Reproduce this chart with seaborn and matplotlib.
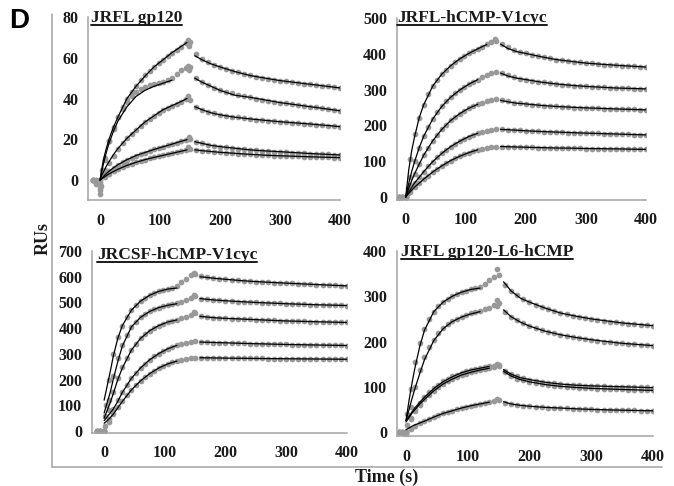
import numpy as np
import pandas as pd
import matplotlib
matplotlib.use("Agg")
import matplotlib.pyplot as plt
from matplotlib.lines import Line2D
import seaborn as sns

nan = np.nan

# ---------------- data ----------------
T_DOTS = [-12, -6, 0, 7.5, 15, 22.5, 30, 37.5, 45, 52.5, 60, 67.5, 75, 82.5, 90, 97.5,
          105, 112.5, 120, 127.5, 135, 142.5, 150,
          160, 170, 180, 190, 200, 210, 220, 230, 240, 250, 260, 270, 280, 290, 300,
          310, 320, 330, 340, 350, 360, 370, 380, 390, 400]
T_FIT_ON = [0, 5, 10, 15, 22.5, 30, 45, 60, 75, 90, 105, 120, 135, 145]
T_FIT_OFF = [158, 170, 185, 200, 225, 250, 275, 300, 350, 400]

TITLES = ["JRFL gp120", "JRFL-hCMP-V1cyc", "JRCSF-hCMP-V1cyc", "JRFL gp120-L6-hCMP"]
X_TICKS = [0, 100, 200, 300, 400]
Y_TICKS = [[0, 20, 40, 60, 80],
           [0, 100, 200, 300, 400, 500],
           [0, 100, 200, 300, 400, 500, 600, 700],
           [0, 100, 200, 300, 400]]

# Panel 1: JRFL gp120
P1_DOTS = [
    [0, 0, 0, 11, 19, 25, 31, 36, 40, 43, 46, 49, 51.5, 53.5, 55.5, 57.5, 59, 61, 62.5, 64, 65.5, 67, 67.5,
     62, 59.5, 58, 56.5, 55.5, 54.5, 53.5, 52.8, 52, 51.3, 50.7, 50.2, 49.7, 49.2, 48.8, 48.4, 48, 47.6, 47.3, 47, 46.7, 46.3, 46, 45.6, 45.2],
    [0, -1, -2, 10, 19, 26, 31, 35, 38.5, 41, 43, 44.5, 45.5, 46.5, 47, 47.5, 48, 49, 50, 52, 54, 55, 55.5,
     50, 48, 46.5, 45, 44, 43.2, 42.5, 41.8, 41.2, 40.6, 40, 39.5, 39, 38.5, 38, 37.6, 37.2, 36.8, 36.4, 36, 35.6, 35.2, 34.8, 34.4, 34],
    [0, -1, -4, 5, 8.5, 12, 15, 18, 20.5, 22.5, 24.5, 26.5, 28.5, 30, 31.5, 33, 34.5, 35.5, 36.5, 37.5, 38.5, 40, 39.5,
     36, 34.5, 33.5, 32.7, 32, 31.5, 31, 30.7, 30.3, 30, 29.7, 29.4, 29.1, 28.8, 28.6, 28.4, 28.1, 27.9, 27.7, 27.5, 27.2, 27, 26.7, 26.5, 26.2],
    [0, -2, -7, 2.5, 4.5, 6, 7.5, 9, 10, 11, 12, 12.8, 13.5, 14.3, 15, 15.7, 16.3, 17, 17.6, 18.3, 19, 19.8, 20,
     18.8, 18, 17.4, 16.9, 16.4, 16, 15.6, 15.2, 15, 14.8, 14.5, 14.3, 14.1, 13.9, 13.8, 13.6, 13.4, 13.3, 13.1, 13, 12.9, 12.7, 12.6, 12.5, 12.3],
    [0, 0, -1, 1.5, 3, 4.2, 5.3, 6.3, 7.2, 8, 8.7, 9.4, 10, 10.6, 11.1, 11.6, 12.1, 12.6, 13.1, 13.6, 14.1, 14.8, 15,
     14.8, 14.4, 14.1, 13.8, 13.6, 13.3, 13.1, 12.9, 12.7, 12.6, 12.4, 12.3, 12.1, 12, 11.9, 11.8, 11.7, 11.6, 11.5, 11.4, 11.3, 11.2, 11.1, 11, 11],
]
P1_FIT_ON = [
    [0, 9, 15, 20, 26, 31, 40, 46, 51, 55.5, 59, 62.5, 65.5, 67.5],
    [0, 7, 13, 18, 24, 29, 36, 41, 44, 46, 47.5, 49, nan, nan],
    [0, 3.5, 6.5, 9, 12.5, 15.5, 20.5, 24.5, 28.5, 31.5, 34.5, 36.5, 38.5, 40],
    [0, 1.5, 3, 4.3, 6, 7.5, 10, 12, 13.5, 15, 16.3, 17.6, 19, 19.8],
    [0, 1, 2, 3, 4.2, 5.3, 7.2, 8.7, 10, 11.1, 12.1, 13.1, 14.1, 14.8],
]
P1_FIT_OFF = [
    [61, 59, 57, 55.5, 53.2, 51.3, 50, 48.8, 47, 45.2],
    [50, 48, 46, 44, 41.6, 40.6, 39.3, 38, 36, 34],
    [36, 34.5, 33, 32, 30.8, 30, 29.3, 28.6, 27.5, 26.2],
    [18.8, 18, 17, 16.4, 15.6, 14.8, 14.3, 13.9, 13, 12.3],
    [14.8, 14.4, 14, 13.6, 13.1, 12.6, 12.2, 11.9, 11.4, 11],
]
P1_SPIKE_T = [146, 148, 146, 148, 147, 148, 147, 2, 3, 0]
P1_SPIKE_RU = [68.5, 66, 56, 54, 41, 21, 16, -3, 5, -5]

# Panel 2: JRFL-hCMP-V1cyc
P2_DOTS = [
    [0, 0, 0, 105, 175, 222, 258, 287, 310, 328, 343, 356, 367, 377, 386, 394, 401, 408, 414, 420, 426, 433, 437,
     426, 418, 411, 406, 401, 397, 393, 390, 387, 384, 382, 380, 378, 376, 374, 373, 371, 370, 369, 368, 367, 366, 365, 364, 363],
    [0, 0, 0, 55, 100, 138, 170, 196, 218, 237, 253, 267, 279, 290, 299, 308, 315, 322, 328, 334, 340, 346, 350,
     347, 340, 335, 331, 328, 325, 322, 320, 318, 316, 314, 313, 311, 310, 309, 308, 307, 306, 305, 304.5, 304, 303.5, 303, 302.5, 302],
    [0, 0, 0, 35, 65, 92, 117, 138, 157, 174, 189, 202, 214, 224, 233, 241, 248, 254, 259, 264, 268, 271, 273,
     270, 267, 264, 262, 260, 258, 257, 255, 254, 253, 252, 251, 250, 249.5, 249, 248, 247.5, 247, 246.5, 246, 245.5, 245, 244.5, 244, 243.5],
    [0, 0, 0, 20, 38, 55, 71, 86, 99, 111, 122, 132, 141, 149, 156, 163, 169, 174, 178, 182, 185, 188, 190,
     189, 188, 187, 186, 185, 184, 183.5, 183, 182, 181.5, 181, 180, 179.5, 179, 178.5, 178, 177.5, 177, 176.5, 176, 175.5, 175, 174.5, 174, 173.5],
    [0, 0, 0, 14, 27, 39, 50, 60, 70, 79, 87, 95, 102, 108, 114, 119, 124, 128, 132, 135, 138, 140, 141,
     141, 140.5, 140, 139.5, 139, 138.5, 138, 138, 137.5, 137, 137, 136.5, 136, 136, 135.5, 135.5, 135, 135, 134.5, 134.5, 134, 134, 133.5, 133.5, 133],
]
P2_FIT_ON = [
    [0, 75, 130, 170, 222, 258, 310, 343, 367, 386, 401, 414, 426, nan],
    [0, 38, 72, 100, 138, 170, 218, 253, 279, 299, 315, 328, nan, nan],
    [0, 24, 46, 66, 92, 117, 157, 189, 214, 233, 248, 259, nan, nan],
    [0, 14, 27, 40, 55, 71, 99, 122, 141, 156, 169, 178, nan, nan],
    [0, 10, 19, 28, 39, 50, 70, 87, 102, 114, 124, 132, nan, nan],
]
P2_FIT_OFF = [
    [427, 415, 406, 401, 392, 384, 379, 374, 368, 363],
    [346, 338, 332, 328, 321, 316, 312, 309, 304.5, 302],
    [270, 266, 262, 260, 256, 253, 251, 249, 246, 243.5],
    [189, 188, 186.5, 185, 183, 181.5, 180, 178.5, 176, 173.5],
    [141, 140.5, 139.8, 139, 138, 137, 136.5, 135.5, 134.5, 133],
]
P2_SPIKE_T = [148, 3, 4]
P2_SPIKE_RU = [440, 10, 25]

# Panel 3: JRCSF-hCMP-V1cyc
P3_DOTS = [
    [0, 0, 0, 200, 300, 365, 410, 445, 470, 490, 505, 517, 528, 536, 543, 549, 554, 558, 565, 578, 592, 605, 612,
     601, 597, 594, 592, 590, 588, 586, 584, 583, 581, 580, 578, 577, 576, 575, 574, 573, 571.5, 570.5, 569.5, 568.5, 567.5, 566.5, 565.5, 564.5],
    [0, 0, 0, 120, 215, 285, 335, 375, 405, 425, 442, 455, 465, 473, 480, 485, 489, 492, 496, 503, 510, 519, 525,
     515, 512, 510, 508, 506.5, 505, 503.5, 502, 501, 500, 499, 498, 497, 496, 495, 494, 493, 492, 491.5, 491, 490, 489.5, 489, 488.5, 488],
    [0, 0, 0, 80, 150, 205, 250, 285, 315, 340, 360, 376, 390, 401, 410, 418, 424, 429, 433, 438, 443, 450, 458,
     446, 443, 441, 439.5, 438, 437, 436, 435, 434, 433, 432, 431, 430, 429, 428, 427.5, 427, 426, 425.5, 425, 424.5, 424, 423, 422.5, 422],
    [0, 0, 0, 45, 85, 120, 152, 180, 205, 226, 245, 262, 277, 290, 301, 311, 320, 327, 333, 338, 343, 347, 350,
     346, 345, 344, 343.5, 343, 342, 341.5, 341, 340, 339.5, 339, 338.5, 338, 337, 336.5, 336, 335.5, 335, 335, 334.5, 334, 333.5, 333, 333, 332.5],
    [0, 0, 0, 35, 65, 92, 117, 140, 160, 178, 195, 210, 223, 235, 245, 254, 261, 267, 272, 276, 280, 283, 285,
     285, 284.5, 284, 284, 283.5, 283, 283, 282.5, 282.5, 282, 282, 281.5, 281.5, 281, 281, 280.5, 280.5, 280, 280, 280, 279.5, 279.5, 279, 279, 279],
]
P3_FIT_ON = [
    [120, 175, 230, 290, 360, 410, 470, 505, 528, 543, 552, 556, nan, nan],
    [70, 110, 150, 200, 270, 330, 405, 442, 465, 480, 489, 495, nan, nan],
    [50, 80, 110, 145, 200, 245, 315, 360, 390, 410, 424, 432, nan, nan],
    [40, 55, 70, 85, 115, 150, 205, 245, 277, 301, 320, 333, nan, nan],
    [30, 40, 52, 65, 90, 115, 160, 195, 223, 245, 261, 272, nan, nan],
]
P3_FIT_OFF = [
    [600, 597, 593, 590, 585, 581, 578, 575, 569.5, 564.5],
    [515, 512, 509, 506.5, 503, 500, 497.5, 495, 491, 488],
    [446, 443, 440, 438, 435.5, 433, 430.5, 428, 425, 422],
    [346, 345, 344, 343, 341, 339.5, 338, 336.5, 334.5, 332.5],
    [285, 284.5, 284, 283.5, 282.7, 282, 281.5, 281, 280, 279],
]
P3_SPIKE_T = [148, 148, 148, 1, 2, 3, -2]
P3_SPIKE_RU = [615, 528, 463, 20, 60, 100, -5]

# Panel 4: JRFL gp120-L6-hCMP
P4_DOTS = [
    [0, 0, 0, 95, 155, 197, 228, 250, 266, 278, 287, 294, 300, 305, 309, 312, 315, 318, 321, 328, 335, 342, 348,
     325, 312, 302, 294, 287, 281, 276, 271, 267, 263, 260, 257, 254, 252, 250, 248, 246, 244, 242.5, 241, 239.5, 238, 237, 236, 235],
    [0, 0, 0, 55, 100, 138, 165, 187, 204, 218, 229, 238, 245, 250, 255, 259, 262, 265, 268, 271, 275, 280, 285,
     265, 255, 247, 240, 234, 229, 225, 221, 218, 215, 212, 210, 208, 206, 204, 202, 200, 199, 197.5, 196, 195, 194, 193, 192, 191],
    [0, 0, 0, 30, 50, 65, 78, 88, 97, 105, 112, 118, 123, 127, 131, 134, 137, 139, 141, 143, 145, 146, 147,
     135, 128, 123, 119, 116, 113, 111, 109, 107.5, 106, 105, 104, 103, 102.5, 102, 101.5, 101, 100.5, 100, 100, 99.5, 99, 99, 98.5, 98],
    [0, -3, -5, 28, 46, 60, 72, 82, 91, 99, 106, 112, 117, 122, 126, 129, 132, 135, 137, 139, 141, 143, 145,
     132, 124, 118, 114, 111, 108, 106, 104, 102.5, 101, 100, 99, 98, 97, 96.5, 96, 95.5, 95, 94.5, 94, 93.5, 93, 93, 92.5, 92],
    [0, 0, 0, 7, 13, 19, 24, 29, 33, 37, 41, 44, 47, 50, 53, 55, 58, 60, 62, 64, 66, 68, 70,
     65, 62, 60, 58.5, 57, 56, 55, 54, 53.5, 53, 52, 51.5, 51, 50.5, 50, 49.5, 49, 48.8, 48.5, 48.2, 48, 47.7, 47.5, 47.2, 47],
]
P4_FIT_ON = [
    [25, 70, 110, 145, 190, 225, 266, 287, 300, 309, 315, 318, nan, nan],
    [25, 50, 75, 98, 130, 160, 202, 228, 244, 254, 261, 266, nan, nan],
    [25, 35, 45, 54, 66, 77, 96, 111, 122, 131, 137, 141, 145, nan],
    [22, 32, 42, 50, 62, 72, 91, 106, 117, 126, 132, 137, 141, nan],
    [5, 9, 13, 16, 20, 24, 33, 41, 47, 53, 58, 62, 66, nan],
]
P4_FIT_OFF = [
    [332, 312, 296, 287, 274, 263, 256, 250, 241, 235],
    [270, 255, 243, 234, 223, 215, 209, 204, 196, 191],
    [138, 128, 120, 116, 110, 106, 103.5, 102, 100, 98],
    [134, 124, 116, 111, 105, 101, 98.5, 96.5, 94, 92],
    [67, 62, 59, 57, 54.5, 53, 51.3, 50, 48.2, 47],
]
P4_SPIKE_T = [148, 148, 148, 148, 148, 1, 2, 0]
P4_SPIKE_RU = [360, 292, 278, 150, 72, 15, 40, -8]

PANELS = [
    (P1_DOTS, P1_FIT_ON, P1_FIT_OFF, P1_SPIKE_T, P1_SPIKE_RU),
    (P2_DOTS, P2_FIT_ON, P2_FIT_OFF, P2_SPIKE_T, P2_SPIKE_RU),
    (P3_DOTS, P3_FIT_ON, P3_FIT_OFF, P3_SPIKE_T, P3_SPIKE_RU),
    (P4_DOTS, P4_FIT_ON, P4_FIT_OFF, P4_SPIKE_T, P4_SPIKE_RU),
]

# ---------------- layout / style ----------------
W, H = 674, 486
sns.set_theme(style="white")
plt.rcParams['font.family'] = ['Liberation Serif', 'DejaVu Serif']
plt.rcParams['font.weight'] = 'bold'

fig = plt.figure(figsize=(W / 100, H / 100), dpi=100)

def px_rect(x0, y_top, x1, y_bot):
    return [x0 / W, 1 - y_bot / H, (x1 - x0) / W, (y_bot - y_top) / H]

AX_RECTS = [px_rect(88, 17, 340, 200.4),
            px_rect(396.7, 18, 646, 199.9),
            px_rect(92, 251, 346.8, 432.8),
            px_rect(396.7, 251, 653, 436.1)]
XLIMS = [(-20, 400), (-15, 400), (-20, 400), (-15, 400)]
YLIMS = [(-10, 80), (-8, 500), (-7, 700), (-9, 400)]
TITLE_POS = [(91, 21.5), (397, 21.5), (97, 259), (401, 256)]

GREY_SPINE = "#a3a3a3"
DOT_COLOR = "#999999"
TXT = "#1a1a1a"

title_texts = []
for i, (dots, fon, foff, sp_t, sp_ru) in enumerate(PANELS):
    ax = fig.add_axes(AX_RECTS[i])
    for c in range(len(dots)):
        d = pd.DataFrame({"t": T_DOTS, "ru": dots[c]})
        sns.scatterplot(data=d, x="t", y="ru", ax=ax, color=DOT_COLOR, s=17,
                        linewidth=0, zorder=2, legend=False)
        fa = pd.DataFrame({"t": T_FIT_ON, "ru": fon[c]}).dropna()
        sns.lineplot(data=fa, x="t", y="ru", ax=ax, color="black", lw=0.9,
                     estimator=None, sort=False, zorder=3, legend=False)
        fb = pd.DataFrame({"t": T_FIT_OFF, "ru": foff[c]})
        sns.lineplot(data=fb, x="t", y="ru", ax=ax, color="black", lw=0.9,
                     estimator=None, sort=False, zorder=3, legend=False)
    sp = pd.DataFrame({"t": sp_t, "ru": sp_ru})
    sns.scatterplot(data=sp, x="t", y="ru", ax=ax, color=DOT_COLOR, s=17,
                    linewidth=0, zorder=2, legend=False)
    ax.set_xlim(*XLIMS[i])
    ax.set_ylim(*YLIMS[i])
    ax.set_xticks(X_TICKS)
    ax.set_yticks(Y_TICKS[i])
    ax.set_xlabel("")
    ax.set_ylabel("")
    for s in ["top", "right"]:
        ax.spines[s].set_visible(False)
    for s in ["left", "bottom"]:
        ax.spines[s].set_color(GREY_SPINE)
        ax.spines[s].set_linewidth(1.1)
    ax.tick_params(axis="both", which="major", direction="out", length=3,
                   width=1, color=GREY_SPINE, labelsize=11.5, labelcolor=TXT)
    ax.tick_params(axis="x", pad=6)
    ax.tick_params(axis="y", pad=4)
    ax.patch.set_alpha(0)
    for lab in ax.get_xticklabels() + ax.get_yticklabels():
        lab.set_fontweight("bold")
    tx, ty = TITLE_POS[i]
    t = fig.text(tx / W, 1 - ty / H, TITLES[i], fontsize=12.5, fontweight="bold",
                 color=TXT, ha="left", va="baseline")
    title_texts.append(t)

# outer frame lines
fig.add_artist(Line2D([52 / W, 52 / W], [1 - 14 / H, 1 - 467 / H], transform=fig.transFigure,
                      color=GREY_SPINE, lw=1.1))
fig.add_artist(Line2D([52 / W, 662 / W], [1 - 467 / H, 1 - 467 / H], transform=fig.transFigure,
                      color=GREY_SPINE, lw=1.1))

fig.text(19 / W, 1 - 21 / H, "D", fontsize=20, fontweight="bold", family=["Liberation Sans", "DejaVu Sans"],
         ha="center", va="center", color="black")
fig.text(43 / W, 1 - 238 / H, "RUs", fontsize=13, fontweight="bold", rotation=90,
         ha="center", va="center", color=TXT)
fig.text(387 / W, 1 - 477 / H, "Time (s)", fontsize=13, fontweight="bold",
         ha="center", va="center", color=TXT)

# underline titles
fig.canvas.draw()
renderer = fig.canvas.get_renderer()
for t in title_texts:
    bb = t.get_window_extent(renderer)
    x0, x1 = bb.x0, bb.x1
    tx, ty = t.get_position()
    yline = ty - 3.0 / H
    fig.add_artist(Line2D([x0 / W, x1 / W], [yline, yline], transform=fig.transFigure,
                          color=TXT, lw=1.4))

fig.savefig("out.png", dpi=100)
